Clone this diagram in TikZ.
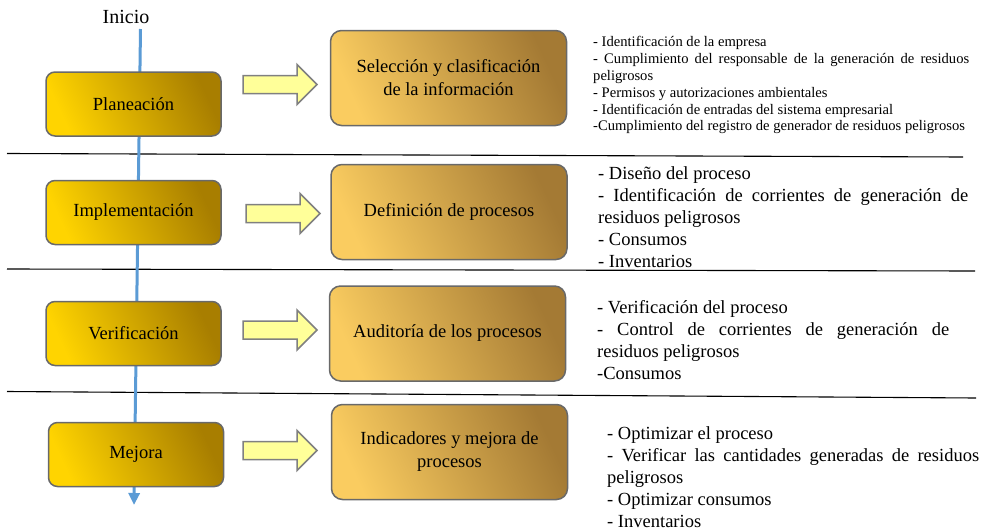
\documentclass[tikz,border=0pt]{standalone}
\usepackage{fontspec}
\setmainfont{Liberation Serif}
\newfontfamily\tnr{Liberation Serif}
\usetikzlibrary{arrows.meta}
\definecolor{goldL}{RGB}{255,212,0}
\definecolor{goldR}{RGB}{168,126,0}
\definecolor{amberL}{RGB}{250,204,96}
\definecolor{amberR}{RGB}{164,122,52}
\definecolor{boxgray}{RGB}{105,105,105}
\definecolor{arrowfill}{RGB}{255,255,153}
\definecolor{arrowdraw}{RGB}{128,128,128}
\definecolor{flowblue}{RGB}{91,155,213}
\hyphenpenalty=10000
\exhyphenpenalty=10000
\tolerance=10000
\pretolerance=10000
\setlength{\parindent}{0pt}
\begin{document}
\begin{tikzpicture}[x=1pt,y=-1pt,
  leftbox/.style={draw=boxgray, line width=1.5pt, rounded corners=9pt,
    minimum width=175pt, minimum height=64pt, inner sep=0pt,
    left color=goldL, right color=goldR, shading angle=115,
    font=\tnr\fontsize{18.5}{22}\selectfont},
  rightbox/.style={draw=boxgray, line width=1.5pt, rounded corners=11pt,
    minimum width=236pt, minimum height=95pt, inner sep=0pt,
    left color=amberL, right color=amberR, shading angle=115,
    align=center, font=\tnr\fontsize{18.5}{23}\selectfont},
  yarrow/.style={draw=arrowdraw, fill=arrowfill, line width=1.5pt},
  sepline/.style={draw=black, line width=1.1pt},
  flow/.style={draw=flowblue, line width=3pt, -{Triangle[width=11pt,length=12pt]}},
  notesA/.style={anchor=north west, inner sep=0pt, text width=376pt, align=justify,
    font=\tnr\fontsize{14.6}{16.9}\selectfont},
  notesB/.style={anchor=north west, inner sep=0pt, align=justify,
    font=\tnr\fontsize{18.5}{22}\selectfont},
  title/.style={font=\tnr\fontsize{20}{24}\selectfont, inner sep=0pt}
]
\useasboundingbox (0,0) rectangle (985,530);

% separators
\coordinate (s1a) at (7,153.5); \coordinate (s1b) at (963,157);
\coordinate (s2a) at (7,269);   \coordinate (s2b) at (975,271);
\coordinate (s3a) at (7,391.5); \coordinate (s3b) at (976,398);
\draw[sepline] (s1a) -- (s1b);
\draw[sepline] (s2a) -- (s2b);
\draw[sepline] (s3a) -- (s3b);

% flow line
\node[title] (ini) at (126,17) {Inicio};
\coordinate (ltop) at (140.5,29);
\coordinate (lbot) at (134,505);
\draw[flow] (ltop) -- (lbot);

% left boxes
\node[leftbox] (p1) at (133.5,104) {Planeación};
\node[leftbox] (p2) at (133.5,212.5) {Implementación};
\node[leftbox] (p3) at (133.5,333.5) {Verificación};
\node[leftbox] (p4) at (136,454.5) {Mejora};

% right boxes
\node[rightbox] (r1) at (448.5,78) {Selección y clasificación\\de la información};
\node[rightbox] (r2) at (449,212) {Definición de procesos};
\node[rightbox] (r3) at (447.5,333.5) {Auditoría de los procesos};
\node[rightbox] (r4) at (449.5,452) {Indicadores y mejora de\\procesos};

% block arrows
\foreach \ax/\ay in {243/84.5, 246/213.5, 243/330, 243/450.5}{
  \draw[yarrow, shift={(\ax,\ay)}] (0,-9) -- (54,-9) -- (54,-20) -- (74,0)
    -- (54,20) -- (54,9) -- (0,9) -- cycle;
}

% notes
\node[notesA] (t1) at (593,36) {- Identificación de la empresa\\
- Cumplimiento del responsable de la generación de residuos peligrosos\\
- Permisos y autorizaciones ambientales\\
- Identificación de entradas del sistema empresarial\\
-Cumplimiento del registro de generador de residuos peligrosos};

\node[notesB, text width=370pt] (t2) at (598,166.5) {- Diseño del proceso\\
- Identificación de corrientes de generación de residuos peligrosos\\
- Consumos\\
- Inventarios};

\node[notesB, text width=352pt] (t3) at (597,300.5) {- Verificación del proceso\\
- Control de corrientes de generación de residuos peligrosos\\
-Consumos};

\node[notesB, text width=372pt] (t4) at (607,426.5) {- Optimizar el proceso\\
- Verificar las cantidades generadas de residuos peligrosos\\
- Optimizar consumos\\
- Inventarios};
\end{tikzpicture}
\end{document}
